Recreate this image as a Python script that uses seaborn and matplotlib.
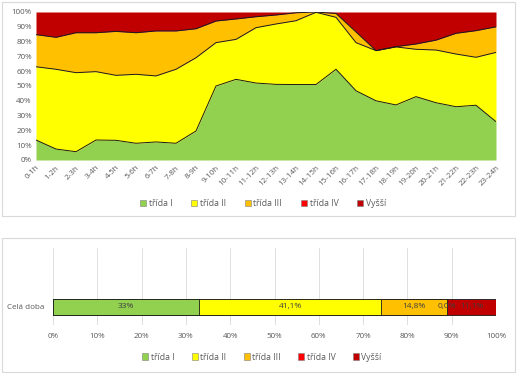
import seaborn as sns
import matplotlib.pyplot as plt
import pandas as pd
from matplotlib.patches import Rectangle, Patch

sns.set_style('white')
plt.rcParams['font.family'] = ['Open Sans', 'DejaVu Sans']

# Data
hours = ['0-1h', '1-2h', '2-3h', '3-4h', '4-5h', '5-6h', '6-7h', '7-8h', '8-9h', '9-10h',
         '10-11h', '11-12h', '12-13h', '13-14h', '14-15h', '15-16h', '16-17h', '17-18h',
         '18-19h', '19-20h', '20-21h', '21-22h', '22-23h', '23-24h']
trida_1 = [13.5, 7.4, 5.6, 13.5, 13.3, 11.3, 12.2, 11.3, 19.6, 50.0, 54.5, 52.0,
           51.1, 51.0, 51.0, 61.3, 46.8, 40.0, 37.2, 42.8, 38.7, 36.0, 37.0, 25.9]
trida_2 = [49.5, 53.9, 53.4, 46.2, 43.9, 46.6, 44.6, 50.0, 49.5, 29.3, 27.0, 37.4,
           40.8, 43.1, 48.8, 35.1, 32.5, 33.9, 39.2, 32.0, 35.6, 35.6, 32.4, 46.8]
trida_3 = [21.7, 21.6, 27.0, 26.3, 29.7, 28.1, 30.4, 25.9, 19.6, 14.6, 13.8, 7.4,
           6.1, 5.4, 0.2, 2.6, 7.2, 0.0, 0.2, 3.6, 6.7, 14.0, 18.0, 17.3]
trida_4 = [0.0] * 24
vyssi = [15.3, 17.1, 14.0, 14.0, 13.1, 14.0, 12.8, 12.8, 11.3, 6.1, 4.7, 3.2,
         2.0, 0.5, 0.0, 1.0, 13.5, 26.1, 23.4, 21.6, 19.0, 14.4, 12.6, 10.0]

series = ['třída I', 'třída II', 'třída III', 'třída IV', 'Vyšší']
colors = ['#92D050', '#FFFF00', '#FFC000', '#FF0000', '#C00000']

# whole period
celkem = [33.0, 41.1, 14.8, 0.0, 11.1]
celkem_labels = ['33%', '41,1%', '14,8%', '0,0%', '11,1%']

W, H = 519, 376
fig = plt.figure(figsize=(W / 100, H / 100), dpi=100)
grey = '#595959'

# panel frames
for (x0, y0, x1, y1) in [(2, 2, 515, 216), (2, 238, 515, 372)]:
    fig.patches.append(Rectangle((x0 / W, 1 - y1 / H), (x1 - x0) / W, (y1 - y0) / H,
                                 transform=fig.transFigure, fill=False,
                                 edgecolor='#d9d9d9', linewidth=0.8))

# Top chart: stacked area
ax = fig.add_axes([36 / W, 1 - 160 / H, 460 / W, 148 / H])
x = list(range(len(hours)))
ax.stackplot(x, trida_1, trida_2, trida_3, trida_4, vyssi, colors=colors, linewidth=0)
cum = pd.DataFrame({'t1': trida_1, 't2': trida_2, 't3': trida_3}).cumsum(axis=1)
for col in ['t1', 't2', 't3']:
    sns.lineplot(x=x, y=cum[col].values, ax=ax, color='#1a1a1a', linewidth=0.7)
ax.set_xlim(0, 23)
ax.set_ylim(0, 100)
ax.set_yticks(range(0, 101, 10))
ax.set_yticklabels([f'{v}%' for v in range(0, 101, 10)], fontsize=5.8, color=grey)
ax.set_xticks(x)
ax.set_xticklabels(hours, fontsize=5.8, color=grey, rotation=45, ha='right',
                   rotation_mode='anchor')
ax.tick_params(length=0, pad=3)
for s in ax.spines.values():
    s.set_visible(False)

handles = [Patch(facecolor=c, edgecolor='#7f7f7f', linewidth=0.4) for c in colors]
fig.legend(handles, series, loc='center', bbox_to_anchor=(263 / W, 1 - 204 / H), ncol=5,
           frameon=False, fontsize=6.2, handlelength=0.7, handleheight=0.7,
           handletextpad=0.3, columnspacing=2.2, labelcolor=grey)

# Bottom chart: 100% stacked bar
ax2 = fig.add_axes([53 / W, 1 - 325 / H, 443 / W, 77 / H])
starts = pd.Series(celkem).cumsum() - pd.Series(celkem)
bar_df = pd.DataFrame({'serie': series, 'podil': celkem, 'start': starts,
                       'konec': starts + pd.Series(celkem), 'y': 'Celá doba'})
for i in reversed(range(len(series))):
    sns.barplot(data=bar_df.iloc[[i]], x='konec', y='y', orient='h', ax=ax2,
                color=colors[i], width=0.5, edgecolor='#1a1a1a', linewidth=0.6,
                saturation=1)
for i in range(len(series)):
    row = bar_df.iloc[i]
    ax2.text(row['start'] + row['podil'] / 2, 0, celkem_labels[i], ha='center',
             va='center', fontsize=6, color='#404040')
ax2.set_xlim(0, 100)
ax2.set_ylim(0.5625, -1.84)
ax2.set_xticks(range(0, 101, 10))
ax2.set_xticklabels([f'{v}%' for v in range(0, 101, 10)], fontsize=5.8, color=grey)
ax2.set_yticks([0])
ax2.set_yticklabels(['Celá doba'], fontsize=5.8, color=grey)
ax2.set_xlabel('')
ax2.set_ylabel('')
ax2.grid(axis='x', color='#d9d9d9', linewidth=0.6)
ax2.set_axisbelow(True)
ax2.tick_params(length=0, pad=6)
for s in ax2.spines.values():
    s.set_visible(False)

fig.legend(handles, series, loc='center', bbox_to_anchor=(262 / W, 1 - 357 / H), ncol=5,
           frameon=False, fontsize=6.2, handlelength=0.7, handleheight=0.7,
           handletextpad=0.3, columnspacing=2.0, labelcolor=grey)

fig.savefig('out.png', dpi=100)
